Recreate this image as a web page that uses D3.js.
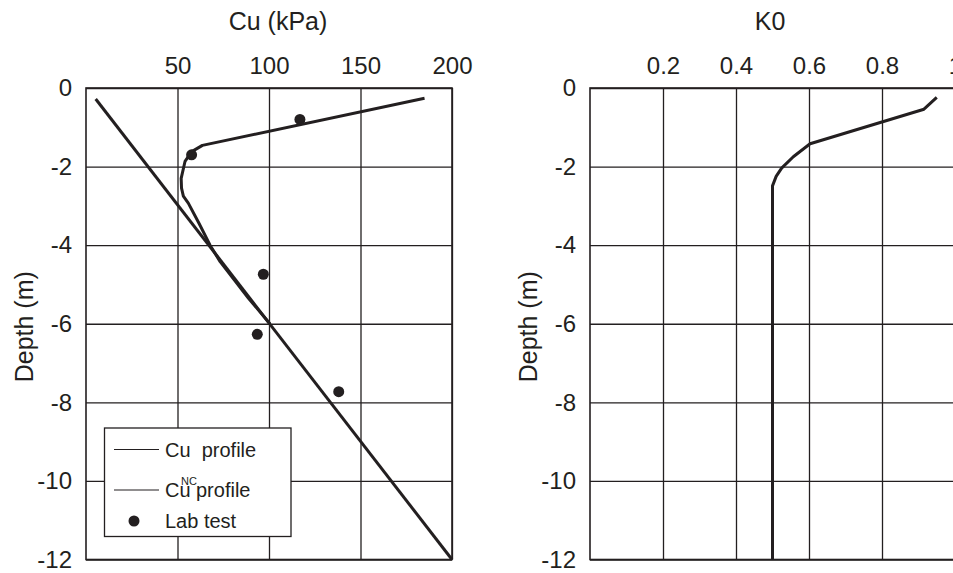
<!DOCTYPE html>
<html>
<head>
<meta charset="utf-8">
<script src="https://cdn.jsdelivr.net/npm/d3@7/dist/d3.min.js"></script>
<style>
  body { margin: 0; background: #fff; }
  svg { display: block; font-family: Arial, "Liberation Sans", sans-serif; }
  .tick text { fill: #231f20; font-size: 24px; }
</style>
</head>
<body>
<svg id="chart" width="953" height="573"></svg>
<script>
// Cu profile (kPa) vs depth (m)
const cuValue = [185, 63.6, 57.8, 54.1, 52.0, 52.2, 53.2, 55.9, 61.8, 67.8, 73.3, 88.8, 100.5];
const cuDepth = [-0.26, -1.46, -1.62, -1.87, -2.3, -2.55, -2.75, -2.93, -3.45, -4.0, -4.42, -5.35, -6.0];

// Cu NC profile
const ncValue = [5.3, 200];
const ncDepth = [-0.28, -12];

// Lab tests
const labValue = [116.9, 57.7, 96.9, 93.6, 138.1];
const labDepth = [-0.8, -1.7, -4.74, -6.27, -7.73];

// K0 profile
const k0Value = [0.95, 0.915, 0.603, 0.557, 0.525, 0.51, 0.50, 0.50];
const k0Depth = [-0.24, -0.54, -1.42, -1.75, -2.04, -2.25, -2.49, -12];

const cuTicks = [50, 100, 150, 200];
const k0Ticks = [0.2, 0.4, 0.6, 0.8, 1];
const depthTicks = [0, -2, -4, -6, -8, -10, -12];

const ink = "#231f20";
const plotTop = 88, plotBottom = 559.5;

const svg = d3.select("#chart");

const y = d3.scaleLinear().domain([0, -12]).range([plotTop, plotBottom]);

function panel(x0, x1, domain, ticks, fmt, title, titleX) {
  const x = d3.scaleLinear().domain(domain).range([x0, x1]);
  const g = svg.append("g");

  // vertical grid + top labels
  g.append("g")
    .attr("transform", `translate(0,${plotTop})`)
    .call(d3.axisTop(x).tickValues(ticks).tickSize(-(plotBottom - plotTop)).tickPadding(14).tickFormat(fmt))
    .call(a => a.select(".domain").remove())
    .call(a => a.selectAll("line").attr("stroke", ink).attr("stroke-width", 1.3));

  // horizontal grid + left labels (plain hyphen like the original)
  g.append("g")
    .attr("transform", `translate(${x0},0)`)
    .call(d3.axisLeft(y).tickValues(depthTicks).tickSize(-(x1 - x0)).tickPadding(14).tickFormat(d => String(d)))
    .call(a => a.select(".domain").remove())
    .call(a => a.selectAll("line").attr("stroke", ink).attr("stroke-width", 1.3));

  g.append("rect")
    .attr("x", x0).attr("y", plotTop)
    .attr("width", x1 - x0).attr("height", plotBottom - plotTop)
    .attr("fill", "none").attr("stroke", ink).attr("stroke-width", 1.6);

  g.append("text")
    .attr("x", titleX).attr("y", 30)
    .attr("text-anchor", "middle")
    .attr("fill", ink).style("font-size", "25px")
    .text(title);

  g.append("text")
    .attr("transform", `translate(${x0 - 53},${(plotTop + plotBottom) / 2 + 3}) rotate(-90)`)
    .attr("text-anchor", "middle")
    .attr("fill", ink).style("font-size", "25px")
    .text("Depth (m)");

  return { x, g };
}

const left = panel(86, 452, [0, 200], cuTicks, d => String(d), "Cu (kPa)", 278);
const right = panel(590, 955, [0, 1], k0Ticks, d => d === 1 ? "1" : d3.format(".1f")(d), "K0", 770);

const lineCu = d3.line().x(d => left.x(d[0])).y(d => y(d[1]));
const lineK0 = d3.line().x(d => right.x(d[0])).y(d => y(d[1]));

left.g.append("path")
  .datum(d3.zip(ncValue, ncDepth))
  .attr("d", lineCu)
  .attr("fill", "none").attr("stroke", ink).attr("stroke-width", 3);

left.g.append("path")
  .datum(d3.zip(cuValue, cuDepth))
  .attr("d", lineCu)
  .attr("fill", "none").attr("stroke", ink).attr("stroke-width", 3)
  .attr("stroke-linejoin", "round");

left.g.selectAll(".lab")
  .data(d3.zip(labValue, labDepth))
  .join("circle")
  .attr("class", "lab")
  .attr("cx", d => left.x(d[0]))
  .attr("cy", d => y(d[1]))
  .attr("r", 5.5)
  .attr("fill", ink);

right.g.append("path")
  .datum(d3.zip(k0Value, k0Depth))
  .attr("d", lineK0)
  .attr("fill", "none").attr("stroke", ink).attr("stroke-width", 3)
  .attr("stroke-linejoin", "round");

// legend
const lg = svg.append("g");
lg.append("rect")
  .attr("x", 104.5).attr("y", 428)
  .attr("width", 186.5).attr("height", 108.5)
  .attr("fill", "#fff").attr("stroke", ink).attr("stroke-width", 1.3);

lg.append("line").attr("x1", 114).attr("x2", 159).attr("y1", 449.5).attr("y2", 449.5)
  .attr("stroke", ink).attr("stroke-width", 1.2);
lg.append("text").attr("x", 165).attr("y", 457)
  .attr("fill", ink).style("font-size", "20px")
  .attr("xml:space", "preserve")
  .text("Cu  profile");

lg.append("line").attr("x1", 114).attr("x2", 159).attr("y1", 490).attr("y2", 490)
  .attr("stroke", ink).attr("stroke-width", 1.2);
const t2 = lg.append("text").attr("x", 165).attr("y", 497)
  .attr("fill", ink).style("font-size", "20px");
t2.append("tspan").text("Cu");
t2.append("tspan").attr("x", 181).attr("y", 484.5).style("font-size", "11px").text("NC");
t2.append("tspan").attr("x", 196).attr("y", 497).text("profile");

lg.append("circle").attr("cx", 134).attr("cy", 521).attr("r", 5.5).attr("fill", ink);
lg.append("text").attr("x", 165).attr("y", 528)
  .attr("fill", ink).style("font-size", "20px")
  .text("Lab test");
</script>
</body>
</html>
